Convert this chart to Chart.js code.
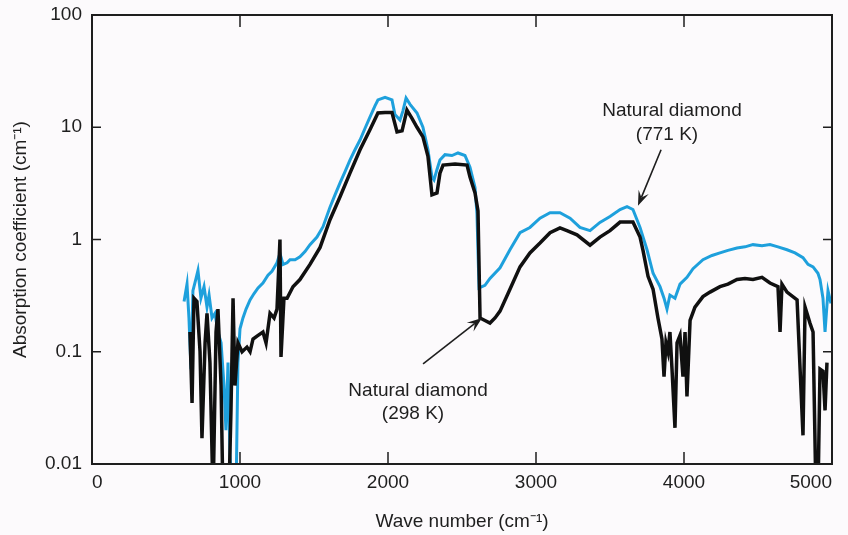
<!doctype html>
<html>

<head>
    <title>Natural diamond absorption</title>
    <script src="https://cdn.jsdelivr.net/npm/chart.js"></script>
    <style>
        html, body { margin: 0; padding: 0; background: #fcfafc; }
        #caixa { width: 848px; height: 535px; }
    </style>
</head>

<body>
    <div id="caixa"><canvas id="grafico"></canvas></div>

    <script>
        // tick values of both axes
        const xTicks = [0, 1000, 2000, 3000, 4000, 5000];
        const yTicks = [0.01, 0.1, 1, 10, 100];

        // natural diamond, 771 K (blue)
        const wn771 = [622, 642, 655, 669, 682, 703, 716, 736, 757, 777,
            791, 811, 831, 851, 872, 892, 905, 919, 932, 953,
            973, 986, 1000, 1020, 1041, 1068, 1095, 1122, 1155, 1189,
            1216, 1250, 1270, 1291, 1318, 1338, 1372, 1405, 1439, 1473,
            1520, 1561, 1608, 1642, 1676, 1709, 1743, 1777, 1811, 1845,
            1878, 1912, 1932, 1980, 2027, 2047, 2081, 2101, 2122, 2149,
            2196, 2236, 2270, 2297, 2311, 2331, 2351, 2385, 2432, 2473,
            2520, 2554, 2588, 2601, 2615, 2655, 2689, 2757, 2824, 2892,
            2959, 3027, 3095, 3162, 3230, 3297, 3365, 3432, 3500, 3568,
            3615, 3655, 3703, 3750, 3791, 3838, 3865, 3885, 3905, 3939,
            3973, 4020, 4061, 4128, 4189, 4243, 4297, 4358, 4412, 4466,
            4527, 4581, 4635, 4696, 4750, 4804, 4838, 4872, 4905, 4919,
            4939, 4953, 4973, 4993];
        const abs771 = [0.28, 0.4, 0.2, 0.07, 0.35, 0.45, 0.53, 0.3, 0.38, 0.25,
            0.32, 0.2, 0.22, 0.15, 0.12, 0.05, 0.02, 0.08, 0.012, 0.005,
            0.005, 0.08, 0.16, 0.2, 0.24, 0.29, 0.33, 0.37, 0.41, 0.48,
            0.52, 0.62, 0.75, 0.6, 0.62, 0.66, 0.66, 0.7, 0.78, 0.9,
            1.05, 1.3, 1.94, 2.5, 3.2, 4.0, 5.1, 6.3, 7.7, 9.8,
            12.3, 15.5, 17.5, 18.5, 17.5, 13, 11.6, 14, 18.2, 16,
            13.4, 10, 6.3, 3.6, 3.4, 4.2, 5.1, 5.7, 5.6, 5.9,
            5.6, 4.4, 2.9, 1.7, 0.37, 0.39, 0.45, 0.56, 0.81, 1.15,
            1.28, 1.55, 1.73, 1.73, 1.55, 1.28, 1.2, 1.42, 1.6, 1.85,
            1.96, 1.85, 1.28, 0.81, 0.5, 0.38, 0.3, 0.24, 0.32, 0.3,
            0.4, 0.46, 0.55, 0.66, 0.72, 0.76, 0.8, 0.84, 0.86, 0.9,
            0.88, 0.9, 0.86, 0.81, 0.76, 0.69, 0.6, 0.57, 0.5, 0.44,
            0.3, 0.15, 0.35, 0.27];

        // natural diamond, 298 K (black)
        const wn298 = [662, 676, 689, 709, 730, 743, 764, 777, 797, 818,
            838, 851, 872, 885, 905, 926, 939, 953, 966, 986,
            1014, 1047, 1068, 1088, 1122, 1155, 1176, 1203, 1230, 1250,
            1270, 1277, 1297, 1318, 1358, 1405, 1473, 1541, 1608, 1676,
            1743, 1811, 1878, 1932, 1980, 2027, 2061, 2095, 2128, 2162,
            2196, 2236, 2270, 2297, 2331, 2351, 2372, 2453, 2534, 2554,
            2588, 2608, 2622, 2655, 2689, 2723, 2757, 2824, 2892, 2959,
            3027, 3095, 3162, 3209, 3277, 3365, 3432, 3500, 3568, 3655,
            3703, 3723, 3757, 3791, 3824, 3851, 3865, 3878, 3892, 3905,
            3919, 3939, 3953, 3973, 3993, 4007, 4020, 4041, 4074, 4128,
            4176, 4243, 4297, 4358, 4412, 4466, 4527, 4581, 4635, 4649,
            4662, 4696, 4764, 4804, 4818, 4831, 4851, 4872, 4892, 4905,
            4919, 4939, 4953, 4966];
        const abs298 = [0.15, 0.035, 0.3, 0.28, 0.1, 0.017, 0.12, 0.22, 0.08, 0.005,
            0.15, 0.24, 0.05, 0.005, 0.005, 0.006, 0.03, 0.3, 0.05, 0.12,
            0.1, 0.11, 0.1, 0.13, 0.14, 0.15, 0.12, 0.22, 0.2, 0.24,
            1.0, 0.09, 0.3, 0.3, 0.38, 0.44, 0.6, 0.85, 1.5, 2.4,
            3.9, 6.3, 9.5, 13.4, 13.5, 13.5, 9.1, 9.3, 14.2, 12,
            10, 8.2, 5.5, 2.5, 2.6, 3.9, 4.6, 4.7, 4.6, 3.6,
            2.6, 1.8, 0.2, 0.19, 0.18, 0.2, 0.23, 0.36, 0.57, 0.76,
            0.93, 1.15, 1.27, 1.2, 1.1, 0.89, 1.05, 1.2, 1.43, 1.43,
            1.05, 0.8, 0.47, 0.36, 0.2, 0.13, 0.06, 0.12, 0.1, 0.15,
            0.07, 0.021, 0.12, 0.14, 0.06, 0.15, 0.04, 0.19, 0.25, 0.31,
            0.34, 0.38, 0.4, 0.44, 0.45, 0.44, 0.46, 0.41, 0.38, 0.15,
            0.4, 0.34, 0.29, 0.018, 0.25, 0.22, 0.18, 0.15, 0.005, 0.005,
            0.07, 0.067, 0.03, 0.08];

        // labels with arrows, placed in data units
        const notas = [
            { linhas: ['Natural diamond', '(771 K)'], texto: [[3919, 14], [3885, 8.5]], de: [3845, 6.3], para: [3689, 2.0] },
            { linhas: ['Natural diamond', '(298 K)'], texto: [[2203, 0.045], [2169, 0.028]], de: [2237, 0.078], para: [2635, 0.2] }
        ];

        const fonte = { family: "'Liberation Sans', Arial, sans-serif", size: 19 };
        const corTexto = '#1e1e1e';

        function pares(xs, ys) {
            return xs.map((v, i) => ({ x: v, y: ys[i] }));
        }

        function seta(ctx, x0, y0, x1, y1) {
            const a = Math.atan2(y1 - y0, x1 - x0);
            const c = Math.cos(a), s = Math.sin(a);
            const L = 15, W = 5.5;
            ctx.beginPath();
            ctx.moveTo(x0, y0);
            ctx.lineTo(x1 - L * 0.6 * c, y1 - L * 0.6 * s);
            ctx.stroke();
            ctx.beginPath();
            ctx.moveTo(x1, y1);
            ctx.lineTo(x1 - L * c + W * s, y1 - L * s - W * c);
            ctx.lineTo(x1 - L * 0.6 * c, y1 - L * 0.6 * s);
            ctx.lineTo(x1 - L * c - W * s, y1 - L * s + W * c);
            ctx.closePath();
            ctx.fill();
        }

        // frame, inward ticks and the two labels
        const moldura = {
            id: 'moldura',
            afterDatasetsDraw(chart) {
                const { ctx, chartArea: a, scales: { x, y } } = chart;
                ctx.save();
                ctx.strokeStyle = corTexto;
                ctx.fillStyle = corTexto;
                ctx.lineWidth = 2;
                ctx.strokeRect(a.left, a.top, a.right - a.left, a.bottom - a.top);
                ctx.lineWidth = 1.5;
                ctx.beginPath();
                xTicks.forEach(v => {
                    const px = x.getPixelForValue(v);
                    ctx.moveTo(px, a.bottom); ctx.lineTo(px, a.bottom - 12);
                    ctx.moveTo(px, a.top); ctx.lineTo(px, a.top + 12);
                });
                yTicks.forEach(v => {
                    const py = y.getPixelForValue(v);
                    ctx.moveTo(a.left, py); ctx.lineTo(a.left + 9, py);
                    ctx.moveTo(a.right, py); ctx.lineTo(a.right - 9, py);
                });
                ctx.stroke();

                ctx.font = fonte.size + 'px ' + fonte.family;
                ctx.textAlign = 'center';
                ctx.textBaseline = 'middle';
                ctx.lineWidth = 1.6;
                notas.forEach(n => {
                    n.linhas.forEach((t, i) => {
                        ctx.fillText(t, x.getPixelForValue(n.texto[i][0]), y.getPixelForValue(n.texto[i][1]));
                    });
                    seta(ctx, x.getPixelForValue(n.de[0]), y.getPixelForValue(n.de[1]),
                        x.getPixelForValue(n.para[0]), y.getPixelForValue(n.para[1]));
                });
                ctx.restore();
            }
        };

        const grafico = new Chart(document.getElementById('grafico').getContext('2d'), {
            type: 'line',
            data: {
                datasets: [{
                    label: 'Natural diamond (298 K)',
                    data: pares(wn298, abs298),
                    borderColor: '#101010',
                    borderWidth: 3.5,
                    pointRadius: 0,
                    tension: 0
                }, {
                    label: 'Natural diamond (771 K)',
                    data: pares(wn771, abs771),
                    borderColor: '#1ea0dc',
                    borderWidth: 3,
                    pointRadius: 0,
                    tension: 0
                }]
            },
            options: {
                responsive: true,
                maintainAspectRatio: false,
                animation: false,
                layout: { padding: { top: 15, right: 16, left: 0, bottom: 0 } },
                plugins: { legend: { display: false }, tooltip: { enabled: false } },
                scales: {
                    x: {
                        type: 'linear',
                        min: 0,
                        max: 5000,
                        afterBuildTicks: s => { s.ticks = xTicks.map(v => ({ value: v })); },
                        afterFit: s => { s.height = 71; },
                        grid: { display: false, drawTicks: false },
                        border: { display: false },
                        ticks: {
                            callback: v => String(v),
                            font: fonte,
                            color: corTexto,
                            padding: 7,
                            align: 'inner',
                            maxRotation: 0
                        },
                        title: {
                            display: true,
                            text: 'Wave number (cm\u207B\u00B9)',
                            font: fonte,
                            color: corTexto,
                            padding: { top: 0, bottom: 2 }
                        }
                    },
                    y: {
                        type: 'logarithmic',
                        min: 0.01,
                        max: 100,
                        afterBuildTicks: s => { s.ticks = yTicks.map(v => ({ value: v })); },
                        afterFit: s => { s.width = 92; s.paddingTop = 0; s.paddingBottom = 0; },
                        grid: { display: false, drawTicks: false },
                        border: { display: false },
                        ticks: {
                            callback: v => String(v),
                            font: fonte,
                            color: corTexto,
                            padding: 10
                        },
                        title: {
                            display: true,
                            text: 'Absorption coefficient (cm\u207B\u00B9)',
                            font: fonte,
                            color: corTexto,
                            padding: { top: 9, bottom: 0 }
                        }
                    }
                }
            },
            plugins: [moldura]
        });
    </script>
</body>

</html>
